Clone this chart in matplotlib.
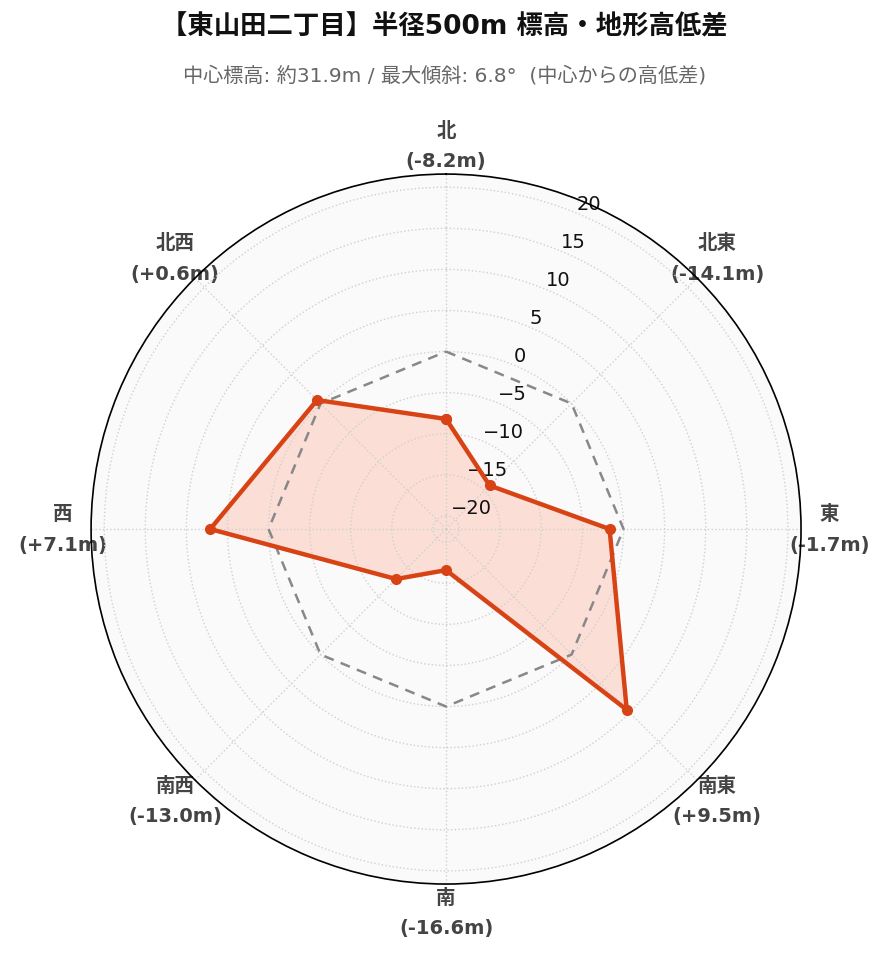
import numpy as np
import matplotlib.pyplot as plt

plt.rcParams['font.family'] = ['DejaVu Sans', 'Noto Sans CJK JP']

# 方位と高低差データ
directions = ['北', '北東', '東', '南東', '南', '南西', '西', '北西']
diffs = [-8.2, -14.1, -1.7, 9.5, -16.6, -13.0, 7.1, 0.6]
ref_level = [0] * 8
r_ticks = [-20, -15, -10, -5, 0, 5, 10, 15, 20]
r_lim = 21.6

title = '【東山田二丁目】半径500m 標高・地形高低差'
subtitle = '中心標高: 約31.9m / 最大傾斜: 6.8°  (中心からの高低差)'

angles = np.deg2rad(np.arange(0, 360, 45))
ang_closed = np.append(angles, angles[0])
diffs_closed = np.append(diffs, diffs[0])
ref_closed = np.append(ref_level, ref_level[0])

fig = plt.figure(figsize=(8.89, 9.62), dpi=100)
ax = fig.add_axes([0.1024, 0.080, 0.7987, 0.738], projection='polar')
ax.set_theta_zero_location('N')
ax.set_theta_direction(-1)
ax.set_facecolor('#fafafa')

ax.set_ylim(-r_lim, r_lim)
ax.set_yticks(r_ticks)
ax.set_yticklabels([str(v).replace('-', '\u2212') for v in r_ticks], fontsize=14, color='#111')
ax.set_rlabel_position(22.5)

labels = [f'{d}\n({v:+.1f}m)' if v > 0 else f'{d}\n({v:.1f}m)' for d, v in zip(directions, diffs)]
ax.set_xticks(angles)
ax.set_xticklabels(labels, fontsize=14, fontweight='bold', color='#444', linespacing=1.75)
ax.tick_params(axis='x', pad=10)

ax.grid(True, color='#d0d0d0', linestyle=':', linewidth=1)
ax.spines['polar'].set_color('black')
ax.spines['polar'].set_linewidth(1.2)

# 高低差（塗り）
ax.fill(ang_closed, diffs_closed, color='#fcd5ca', alpha=0.75, zorder=1)

# 基準線（0m）
ax.plot(ang_closed, ref_closed, color='#888', linestyle='--', linewidth=1.8, dashes=(4, 3), zorder=2.6)

# 高低差（線）
ax.plot(ang_closed, diffs_closed, color='#d84315', linewidth=3.2, marker='o', markersize=7, zorder=3)

fig.text(0.5, 0.971, title, ha='center', va='center', fontsize=19, fontweight='bold', color='#111')
fig.text(0.5, 0.921, subtitle, ha='center', va='center', fontsize=14.5, color='#666')

fig.savefig('out.png', dpi=100)
